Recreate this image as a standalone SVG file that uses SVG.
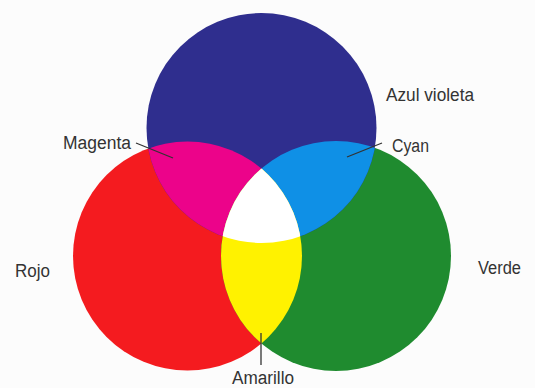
<svg xmlns="http://www.w3.org/2000/svg" width="535" height="388" viewBox="0 0 535 388">
  <style>
    .lbl { font-family: "Liberation Sans", Arial, sans-serif; font-size: 18px; fill: #333333; }
    .lead { stroke: #333333; stroke-width: 1.3; fill: none; }
  </style>
  <defs>
    <clipPath id="clipRed"><circle cx="187.5" cy="256" r="114.5"/></clipPath>
    <clipPath id="clipGreen"><circle cx="336" cy="256" r="115"/></clipPath>
    <clipPath id="clipBlue"><circle cx="261.5" cy="128" r="115"/></clipPath>
  </defs>
  <rect x="0" y="0" width="535" height="388" fill="#fcfcfc"/>

  <g id="rojo">
    <circle cx="187.5" cy="256" r="114.5" fill="#f41b1f"/>
    <text class="lbl" x="15" y="277" textLength="35" lengthAdjust="spacingAndGlyphs">Rojo</text>
  </g>
  <g id="verde">
    <circle cx="336" cy="256" r="115" fill="#1f8b2f"/>
    <text class="lbl" x="478" y="274" textLength="43" lengthAdjust="spacingAndGlyphs">Verde</text>
  </g>
  <g id="azul-violeta">
    <circle cx="261.5" cy="128" r="115" fill="#2f2e8e"/>
    <text class="lbl" x="386" y="101" textLength="88" lengthAdjust="spacingAndGlyphs">Azul violeta</text>
  </g>
  <g id="magenta">
    <circle cx="261.5" cy="128" r="115" fill="#ec038a" clip-path="url(#clipRed)"/>
    <text class="lbl" x="63" y="149" textLength="68" lengthAdjust="spacingAndGlyphs">Magenta</text>
  </g>
  <g id="cyan">
    <circle cx="261.5" cy="128" r="115" fill="#0f90e6" clip-path="url(#clipGreen)"/>
    <text class="lbl" x="392" y="152" textLength="37" lengthAdjust="spacingAndGlyphs">Cyan</text>
  </g>
  <g id="amarillo">
    <circle cx="336" cy="256" r="115" fill="#fff200" clip-path="url(#clipRed)"/>
    <text class="lbl" x="232" y="384" textLength="62" lengthAdjust="spacingAndGlyphs">Amarillo</text>
  </g>
  <g id="blanco">
    <g clip-path="url(#clipRed)">
      <circle cx="336" cy="256" r="115" fill="#ffffff" clip-path="url(#clipBlue)"/>
    </g>
  </g>

  <g id="connectors">
    <line class="lead" x1="136" y1="143" x2="173" y2="158"/>
    <line class="lead" x1="382" y1="143" x2="347" y2="157"/>
    <line class="lead" x1="261" y1="333" x2="261" y2="365"/>
  </g>
</svg>
